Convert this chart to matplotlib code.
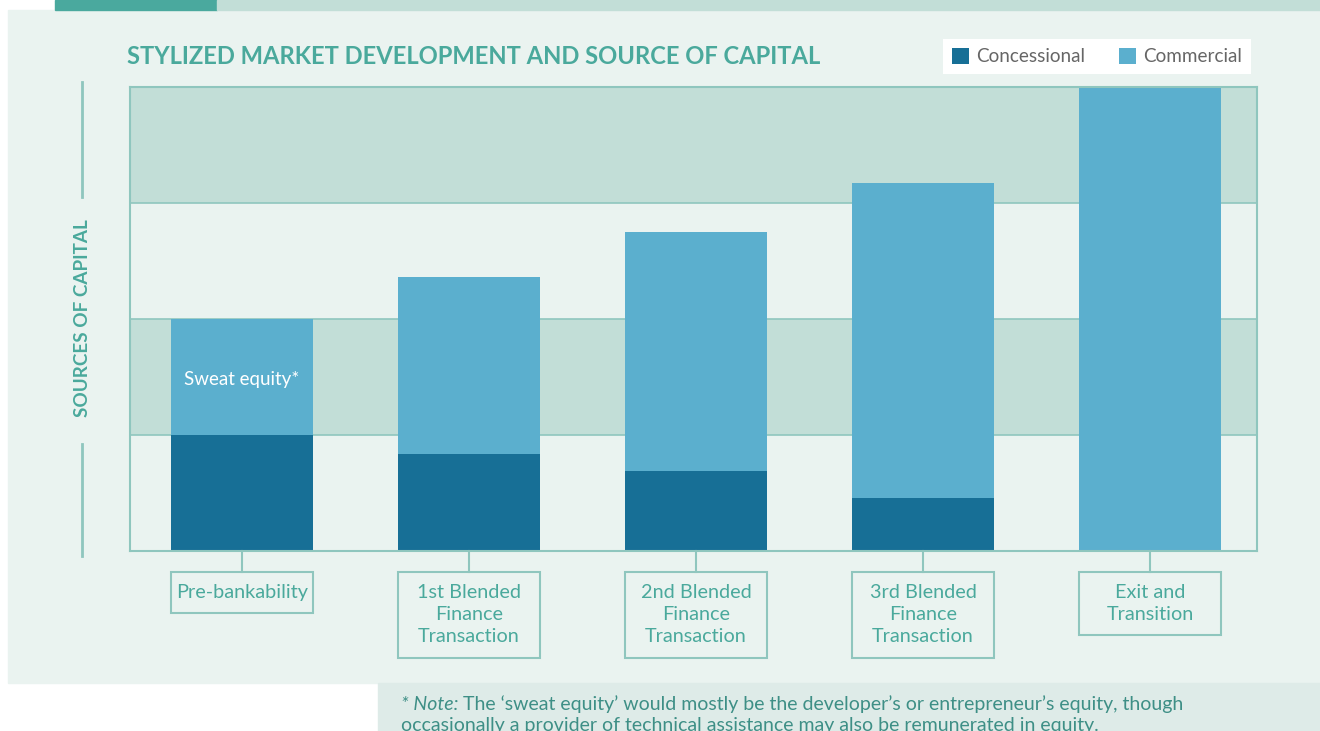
import matplotlib.pyplot as plt
from matplotlib.patches import Rectangle, Patch
from matplotlib.lines import Line2D
import matplotlib.transforms as mtransforms

# ---- style ----
plt.rcParams["font.family"] = ["Lato", "DejaVu Sans"]

TEAL = "#4AA99C"
TEAL_DARK = "#3E8F86"
BORDER = "#8FC6BE"
PANEL_BG = "#EAF3F0"
BAND = "#C2DED7"
NOTE_BG = "#DEEBE8"
CONC_COLOR = "#176F96"
COMM_COLOR = "#5BAFCE"

W, H = 1320, 731

# ---- data ----
stages = ["Pre-bankability",
          "1st Blended\nFinance\nTransaction",
          "2nd Blended\nFinance\nTransaction",
          "3rd Blended\nFinance\nTransaction",
          "Exit and\nTransition"]
concessional = [1.0, 0.84, 0.69, 0.46, 0.0]
commercial = [1.0, 1.52, 2.06, 2.71, 4.0]
series_names = ["Concessional", "Commercial"]
band_edges = [1, 2, 3]
shaded_bands = [(1, 2), (3, 4)]

# ---- figure ----
fig = plt.figure(figsize=(W / 100, H / 100), dpi=100, facecolor="white")


def fx(px):
    return px / W


def fy(py):
    return 1 - py / H


# page backgrounds
fig.add_artist(Rectangle((fx(8), fy(683)), fx(1320 - 8), (683 - 10) / H,
                         transform=fig.transFigure, color=PANEL_BG, zorder=-2))
fig.add_artist(Rectangle((fx(55), fy(10)), fx(217 - 55), 10 / H,
                         transform=fig.transFigure, color="#4AA99E", zorder=-2))
fig.add_artist(Rectangle((fx(217), fy(10)), fx(1320 - 217), 10 / H,
                         transform=fig.transFigure, color=BAND, zorder=-2))
fig.add_artist(Rectangle((fx(378), 0), fx(1320 - 378), (731 - 683) / H,
                         transform=fig.transFigure, color=NOTE_BG, zorder=-2))

# ---- axes ----
ax = fig.add_axes([fx(130), fy(551), fx(1257 - 130), (551 - 87) / H])
ax.set_facecolor(PANEL_BG)
x = list(range(len(stages)))
bar_w = 0.626

for lo, hi in shaded_bands:
    ax.axhspan(lo, hi, color=BAND, zorder=0, lw=0)
for e in band_edges:
    ax.axhline(e, color=BORDER, lw=1.2, zorder=0.5)

ax.bar(x, concessional, width=bar_w, color=CONC_COLOR, zorder=2, lw=0)
ax.bar(x, commercial, width=bar_w, bottom=concessional, color=COMM_COLOR,
       zorder=2, lw=0)

ax.text(0, concessional[0] + commercial[0] / 2 - 0.02, "Sweat equity*",
        color="white", ha="center", va="center", fontsize=13.5, zorder=3)

ax.set_xlim(-0.493, 4.471)
ax.set_ylim(0, 4)
ax.set_xticks([])
ax.set_yticks([])
for s in ax.spines.values():
    s.set_color(BORDER)
    s.set_linewidth(1.5)

# category boxes below the axis
px_to_ax = 1 / (551 - 87)
trans = mtransforms.blended_transform_factory(ax.transData, ax.transAxes)
box_top = -(572 - 551) * px_to_ax
for xi, lab in zip(x, stages):
    n = lab.count("\n") + 1
    h = (18 + 22.5 * n) * px_to_ax
    ax.add_line(Line2D([xi, xi], [0, box_top], transform=trans, color=BORDER,
                       lw=1.5, clip_on=False))
    ax.add_patch(Rectangle((xi - bar_w / 2, box_top - h), bar_w, h,
                           transform=trans, fill=False, edgecolor=BORDER,
                           lw=1.5, clip_on=False))
    ax.text(xi, box_top - h / 2, lab, transform=trans, ha="center",
            va="center", color=TEAL, fontsize=14.3, linespacing=1.35,
            clip_on=False)

# ---- title, y label ----
fig.text(fx(127), fy(57), "STYLIZED MARKET DEVELOPMENT AND SOURCE OF CAPITAL",
         color=TEAL, fontsize=17.1, fontweight="bold", ha="left", va="center")

fig.text(fx(82), fy(318), "SOURCES OF CAPITAL", color=TEAL, fontsize=13.6,
         fontweight="bold", rotation=90, ha="center", va="center")
fig.add_artist(Line2D([fx(82), fx(82)], [fy(82), fy(197)],
                      transform=fig.transFigure, color=BORDER, lw=2))
fig.add_artist(Line2D([fx(82), fx(82)], [fy(444), fy(556)],
                      transform=fig.transFigure, color=BORDER, lw=2))

# ---- legend ----
handles = [Patch(facecolor=CONC_COLOR, label=series_names[0]),
           Patch(facecolor=COMM_COLOR, label=series_names[1])]
leg = fig.legend(handles=handles, loc="center",
                 bbox_to_anchor=(fx(1097), fy(56.5)), ncol=2,
                 frameon=True, fancybox=False, facecolor="white",
                 edgecolor="none", framealpha=1, fontsize=13.6,
                 handlelength=0.9, handleheight=0.9, handletextpad=0.4,
                 columnspacing=1.8, borderpad=0.45, labelcolor="#666666")

# ---- note ----
t1 = fig.text(fx(401), fy(704), "* Note:", color=TEAL_DARK, fontsize=14,
              style="italic", ha="left", va="center")
ax.annotate(" The \u2018sweat equity\u2019 would mostly be the developer\u2019s or "
            "entrepreneur\u2019s equity, though",
            xy=(1, 0.5), xycoords=t1, ha="left", va="center",
            color=TEAL_DARK, fontsize=14, annotation_clip=False)
fig.text(fx(401), fy(726), "occasionally a provider of technical assistance "
         "may also be remunerated in equity.", color=TEAL_DARK, fontsize=14,
         ha="left", va="center")

fig.savefig("out.png", dpi=100, facecolor="white")
